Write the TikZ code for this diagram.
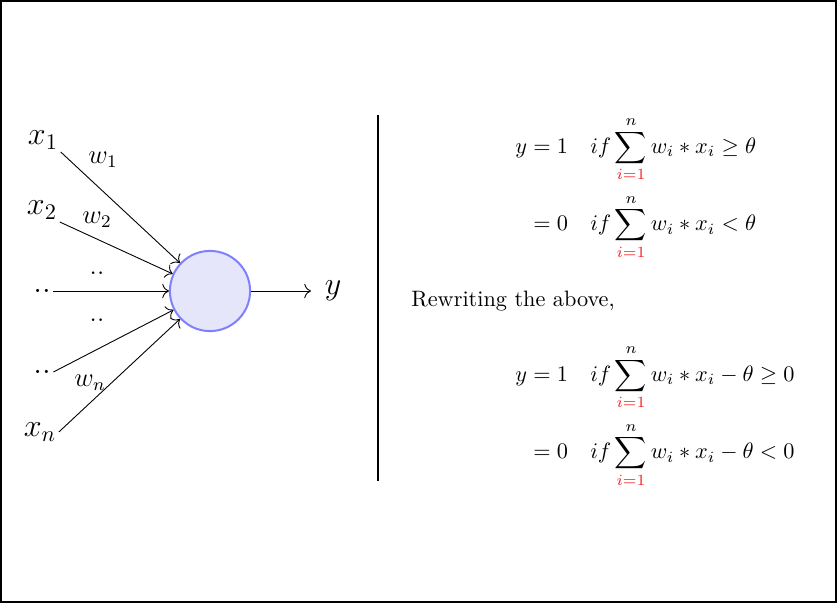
\documentclass[tikz,border=0pt]{standalone}
\usepackage{tikz}
\usetikzlibrary{arrows.meta}
\usepackage{amsmath}
\usepackage{xcolor}
\definecolor{neuronfill}{RGB}{230, 230, 250}
\definecolor{neuronblue}{RGB}{128, 128, 255}
\definecolor{limitred}{RGB}{250, 30, 30}

\begin{document}
\begin{tikzpicture}[x=0.449pt,y=0.449pt,
        inlabel/.style={font=\Large,inner sep=1pt},
        weightlabel/.style={font=\large,inner sep=1pt},
        synapse/.style={-{To[length=3pt,width=6.5pt]}}]
        % Frame
        \useasboundingbox (0,0) rectangle (838,603);
        \draw[line width=0.5pt] (1,1) rectangle (836,602);

        % Neuron
        \node[circle,draw=neuronblue,fill=neuronfill,line width=0.9pt,minimum size=36pt] (neuron) at (210,312) {};

        % Inputs
        \node[inlabel] (x1) at (43,463) {$x_1$};
        \node[inlabel] (x2) at (42,393) {$x_2$};
        \node[inlabel] (d1) at (42,312) {..};
        \node[inlabel] (d2) at (42,231) {..};
        \node[inlabel] (xn) at (40,171) {$x_n$};
        \foreach \i/\a in {x1/south east,x2/south east,d1/east,d2/east,xn/east} {
            \draw[synapse] (\i.\a) -- (neuron);
        }

        % Weights
        \node[weightlabel] (w1) at (103,443) {$w_1$};
        \node[weightlabel] (w2) at (97,383) {$w_2$};
        \node[weightlabel] (wd1) at (97,330) {..};
        \node[weightlabel] (wd2) at (97,283) {..};
        \node[weightlabel] (wn) at (90,220) {$w_n$};

        % Output
        \node[font=\Large,inner sep=6pt] (y) at (333,312) {$y$};
        \draw[synapse] (neuron) -- (y);

        % Separator
        \draw[line width=1.3pt] (378,488) -- (378,122);

        % Rules
        \node[anchor=west,inner sep=0pt] (rule) at (515,415) {
            $\begin{aligned}
                y &= 1 \quad if\sum_{\textcolor{limitred}{i=1}}^{n} w_i * x_i \geq \theta\\[1.5pt]
                  &= 0 \quad if\sum_{\textcolor{limitred}{i=1}}^{n} w_i * x_i < \theta
            \end{aligned}$
        };
        \node[anchor=west,inner sep=0pt] (rewrite) at (411,302) {Rewriting the above,};
        \node[anchor=west,inner sep=0pt] (rule2) at (515,187) {
            $\begin{aligned}
                y &= 1 \quad if\sum_{\textcolor{limitred}{i=1}}^{n} w_i * x_i - \theta \geq 0\\[1.5pt]
                  &= 0 \quad if\sum_{\textcolor{limitred}{i=1}}^{n} w_i * x_i - \theta < 0
            \end{aligned}$
        };
    \end{tikzpicture}
\end{document}
